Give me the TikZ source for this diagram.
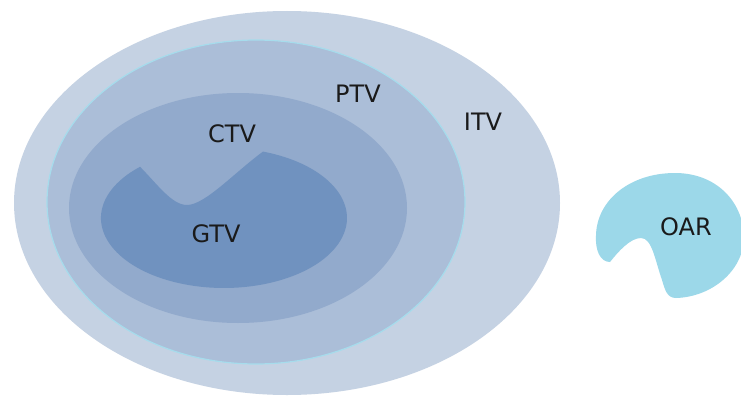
\documentclass[tikz,border=0pt]{standalone}
\usepackage{fontspec}
\setmainfont{DejaVu Sans}
\definecolor{itvcol}{HTML}{C5D2E3}
\definecolor{ptvcol}{HTML}{ABBED8}
\definecolor{ptvedge}{HTML}{A6DCEC}
\definecolor{ctvcol}{HTML}{92AACC}
\definecolor{gtvcol}{HTML}{7092BF}
\definecolor{oarcol}{HTML}{9CD8E9}
\definecolor{labelcol}{HTML}{1A1A1A}
\tikzset{
  volume/.style={draw=none},
  vlabel/.style={text=labelcol, inner sep=0pt, font=\fontsize{24}{28}\selectfont}
}
\begin{document}
\begin{tikzpicture}[x=1pt,y=-1pt]
  \useasboundingbox[fill=white] (0,0) rectangle (741,396);
  % nested target volumes
  \fill[itvcol, volume] (287,203) ellipse [x radius=273, y radius=192];
  \fill[ptvcol, draw=ptvedge, line width=1.2pt] (256,202) ellipse [x radius=209, y radius=162];
  \fill[ctvcol, volume] (238,208) ellipse [x radius=169, y radius=115];
  % gross tumour volume with its notch
  \fill[gtvcol, volume] (263,151.6)
    arc[start angle=-71.5, end angle=227, x radius=123, y radius=70]
    .. controls (158,185) and (172,205) .. (187,205)
    .. controls (205,205) and (235,172) .. (263,151.6) -- cycle;
  % organ at risk
  \fill[oarcol, volume] (610,262)
    .. controls (600,262) and (595,250) .. (596,235)
    .. controls (597,200) and (630,173) .. (675,173)
    .. controls (715,173) and (742,200) .. (744,235)
    .. controls (745,270) and (712,297) .. (676,298)
    .. controls (667,298) and (665,290) .. (662,280)
    .. controls (655,260) and (652,238) .. (641,238)
    .. controls (630,238) and (618,252) .. cycle;
  % labels
  \node[vlabel] (ptv) at (358,94) {PTV};
  \node[vlabel] (itv) at (483,122) {ITV};
  \node[vlabel] (ctv) at (232,134) {CTV};
  \node[vlabel] (gtv) at (216,234) {GTV};
  \node[vlabel] (oar) at (686,227) {OAR};
\end{tikzpicture}
\end{document}
